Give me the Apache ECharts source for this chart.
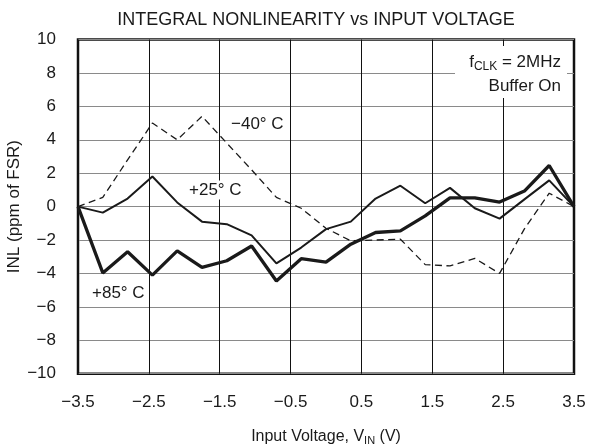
<!DOCTYPE html>
<html>
<head>
<meta charset="utf-8">
<script src="https://cdn.jsdelivr.net/npm/echarts@6/dist/echarts.min.js"></script>
<style>
  html, body { margin: 0; padding: 0; background: #fff; }
  #main { width: 591px; height: 447px; }
</style>
</head>
<body>
<div id="main"></div>
<script>
// input voltage (V) of each measured point
const voltage = [-3.5, -3.15, -2.8, -2.45, -2.1, -1.75, -1.4, -1.05, -0.7, -0.35, 0,
  0.35, 0.7, 1.05, 1.4, 1.75, 2.1, 2.45, 2.8, 3.15, 3.5]

// INL in ppm of FSR
const inlMinus40 = [0, 0.55, 2.8, 5.0, 4.0, 5.4, 3.8, 2.2, 0.55, -0.1, -1.3,
  -2.05, -2.0, -1.95, -3.47, -3.55, -3.1, -4.0, -1.33, 0.8, 0]
const inlPlus25 = [0, -0.36, 0.48, 1.8, 0.25, -0.9, -1.05, -1.72, -3.4, -2.45, -1.35,
  -0.9, 0.48, 1.25, 0.2, 1.12, -0.1, -0.72, 0.43, 1.57, 0]
const inlPlus85 = [0, -3.97, -2.7, -4.1, -2.65, -3.64, -3.24, -2.36, -4.45, -3.12, -3.32,
  -2.25, -1.55, -1.45, -0.56, 0.52, 0.52, 0.27, 0.93, 2.46, 0]

const FONT = '"Liberation Sans", Arial, sans-serif'
const INK = '#1a1a1a'

function minus (v) {
  return String(v).replace('-', '\u2212')
}
function pairs (ys) {
  return voltage.map((v, i) => [v, ys[i]])
}

let chart = echarts.init(document.getElementById('main'))

let option = {
  backgroundColor: '#fff',
  animation: false,
  grid: {
    left: 78,
    right: 17,
    top: 39.5,
    bottom: 73.3,
    containLabel: false,
    outerBoundsMode: 'none',
    show: true,
    borderColor: '#111',
    borderWidth: 2.5,
    backgroundColor: 'transparent'
  },
  xAxis: {
    type: 'value',
    min: -3.5,
    max: 3.5,
    interval: 0.5,
    name: '{n|Input Voltage, V}{s|IN}{n| (V)}',
    nameLocation: 'middle',
    nameGap: 53,
    nameMoveOverlap: false,
    nameTextStyle: {
      rich: {
        n: { fontFamily: FONT, fontSize: 16, color: INK },
        s: { fontFamily: FONT, fontSize: 11, color: INK, padding: [9, 0, 0, 0] }
      }
    },
    axisLine: { show: false },
    axisTick: { show: false },
    axisLabel: {
      margin: 20,
      fontFamily: FONT,
      fontSize: 17,
      color: INK,
      // only the x.5 ticks carry a label
      formatter: function (v) {
        return Math.abs(Math.round(v * 2)) % 2 === 1 ? minus(v.toFixed(1)) : ''
      }
    },
    splitLine: {
      show: true,
      lineStyle: { color: ['#111', 'rgba(0,0,0,0)'], width: 1 }
    }
  },
  yAxis: {
    type: 'value',
    min: -10,
    max: 10,
    interval: 2,
    name: 'INL (ppm of FSR)',
    nameLocation: 'middle',
    nameGap: 55,
    nameMoveOverlap: false,
    nameTextStyle: { fontFamily: FONT, fontSize: 17, color: INK },
    axisLine: { show: false },
    axisTick: { show: false },
    axisLabel: {
      margin: 22,
      fontFamily: FONT,
      fontSize: 17,
      color: INK,
      padding: [0, 0, 5, 0],
      formatter: function (v) { return minus(v) }
    },
    splitLine: {
      show: true,
      lineStyle: { color: '#8a8a8a', width: 1.2 }
    }
  },
  graphic: [
    {
      type: 'text', x: 316, y: 20, z: 100,
      style: {
        text: 'INTEGRAL NONLINEARITY vs INPUT VOLTAGE',
        align: 'center', verticalAlign: 'middle',
        fontFamily: FONT, fontSize: 18, fill: INK
      }
    },
    {
      // white patch behind the condition note
      type: 'rect', z: 90,
      shape: { x: 455, y: 46, width: 112, height: 52 },
      style: { fill: '#fff' }
    },
    {
      type: 'text', x: 561, y: 62, z: 100,
      style: {
        text: '{n|f}{s|CLK}{n| = 2MHz}',
        align: 'right', verticalAlign: 'middle',
        rich: {
          n: { fontFamily: FONT, fontSize: 17, fill: INK },
          s: { fontFamily: FONT, fontSize: 12, fill: INK, padding: [9, 0, 0, 0] }
        }
      }
    },
    {
      type: 'text', x: 561, y: 86, z: 100,
      style: {
        text: 'Buffer On',
        align: 'right', verticalAlign: 'middle',
        fontFamily: FONT, fontSize: 17, fill: INK
      }
    },
    {
      type: 'text', x: 229, y: 124.5, z: 100,
      style: {
        text: '\u221240\u00b0 C', verticalAlign: 'middle',
        fontFamily: FONT, fontSize: 17, fill: INK,
        backgroundColor: '#fff', padding: [1, 2]
      }
    },
    {
      type: 'text', x: 187, y: 190, z: 100,
      style: {
        text: '+25\u00b0 C', verticalAlign: 'middle',
        fontFamily: FONT, fontSize: 17, fill: INK,
        backgroundColor: '#fff', padding: [1, 2]
      }
    },
    {
      type: 'text', x: 90, y: 293, z: 100,
      style: {
        text: '+85\u00b0 C', verticalAlign: 'middle',
        fontFamily: FONT, fontSize: 17, fill: INK,
        backgroundColor: '#fff', padding: [1, 2]
      }
    }
  ],
  series: [
    {
      name: '-40C',
      type: 'line',
      symbol: 'none',
      z: 3,
      lineStyle: { color: INK, width: 1.3, type: [7, 4.5] },
      data: pairs(inlMinus40)
    },
    {
      name: '+25C',
      type: 'line',
      symbol: 'none',
      z: 4,
      lineStyle: { color: INK, width: 2 },
      data: pairs(inlPlus25)
    },
    {
      name: '+85C',
      type: 'line',
      symbol: 'none',
      z: 5,
      lineStyle: { color: INK, width: 3.3 },
      data: pairs(inlPlus85)
    }
  ]
}

chart.setOption(option)
</script>
</body>
</html>
